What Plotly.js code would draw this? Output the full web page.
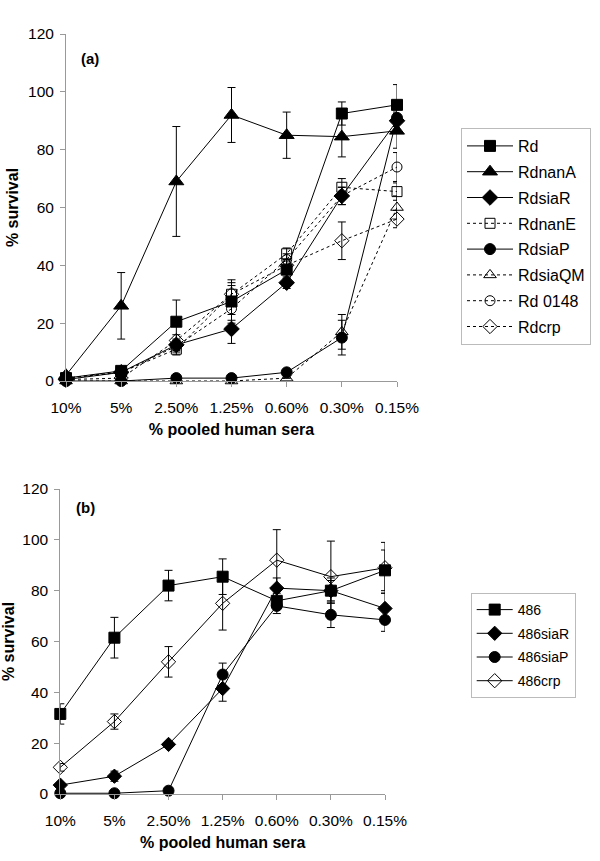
<!DOCTYPE html>
<html>
<head>
<meta charset="utf-8">
<script src="https://cdn.plot.ly/plotly-3.0.1.min.js"></script>
<style>html,body{margin:0;padding:0;background:#fff}</style>
</head>
<body>
<div id="chart" style="width:600px;height:861px"></div>
<script>
// Categories (x axis)
const categories = ['10%', '5%', '2.50%', '1.25%', '0.60%', '0.30%', '0.15%'];

// Panel (a) series
const rd       = [1, 3.5, 20.5, 27.5, 38.5, 92.5, 95.5];
const rdErr    = [0, 1, 7.5, 7.5, 3, 4, 7];
const rdnanA   = [2, 26, 69, 92, 85, 84.5, 86.5];
const rdnanAErr= [1, 11.5, 19, 9.5, 8, 7, 6];
const rdsiaR   = [0.5, 3, 12.5, 18, 34, 64, 90];
const rdsiaRErr= [0, 0.5, 2, 5, 2, 3, 3];
const rdnanE   = [1, 3, 11, 30, 44, 67, 65.5];
const rdnanEErr= [0, 0.5, 2, 3, 2, 3, 3];
const rdsiaP   = [0, 0, 1, 1, 3, 15, 91];
const rdsiaPErr= [0, 0, 0, 0, 0, 6, 3];
const rdsiaQM  = [0, 0, 0, 0, 1, 17, 60];
const rdsiaQMErr=[0, 0, 0, 0, 0, 6, 4];
const rd0148   = [1, 3, 12, 25, 42, 64, 74];
const rd0148Err= [0, 0, 2, 4, 2, 3, 5];
const rdcrp    = [0.5, 1, 14, 30, 40, 48.5, 56];
const rdcrpErr = [0, 0, 2, 4, 2, 6.5, 3];

// Panel (b) series
const s486       = [31.5, 61.5, 82, 85.5, 76, 80, 88];
const s486Err    = [4, 8, 6, 7, 3, 5, 8];
const s486siaR   = [3.5, 7, 19.5, 41.5, 81, 80, 73];
const s486siaRErr= [0.5, 2, 1, 5, 4, 4, 6];
const s486siaP   = [0.3, 0.3, 1.3, 47, 74, 70.5, 68.5];
const s486siaPErr= [0, 0, 0, 4.5, 3, 5, 4.5];
const s486crp    = [10.5, 28.5, 52, 75, 92, 85.5, 89];
const s486crpErr = [1.5, 3, 6, 10.5, 12, 14, 10];

const W = 600, H = 861;
const FONT = 'Liberation Sans, Arial, Helvetica, sans-serif';

function tr(name, y, err, symbol, size, dash, xa, ya, legend, group) {
  return {
    type: 'scatter', mode: 'lines+markers', name: name,
    x: categories, y: y, xaxis: xa, yaxis: ya, legend: legend, legendgroup: group,
    cliponaxis: false,
    line: {color: '#000', width: 1, dash: dash},
    marker: {symbol: symbol, size: size, color: '#000', line: {color: '#000', width: 1}},
    error_y: {type: 'data', array: err, visible: true, color: '#000', thickness: 1, width: 4}
  };
}

const data = [
  tr('Rd', rd, rdErr, 'square', 11, 'solid', 'x', 'y', 'legend', 'a1'),
  tr('RdnanA', rdnanA, rdnanAErr, 'triangle-up', 13, 'solid', 'x', 'y', 'legend', 'a2'),
  tr('RdsiaR', rdsiaR, rdsiaRErr, 'diamond', 12, 'solid', 'x', 'y', 'legend', 'a3'),
  tr('RdnanE', rdnanE, rdnanEErr, 'square-open', 10, 'dot', 'x', 'y', 'legend', 'a4'),
  tr('RdsiaP', rdsiaP, rdsiaPErr, 'circle', 11, 'solid', 'x', 'y', 'legend', 'a5'),
  tr('RdsiaQM', rdsiaQM, rdsiaQMErr, 'triangle-up-open', 11, 'dot', 'x', 'y', 'legend', 'a6'),
  tr('Rd 0148', rd0148, rd0148Err, 'circle-open', 10, 'dot', 'x', 'y', 'legend', 'a7'),
  tr('Rdcrp', rdcrp, rdcrpErr, 'diamond-open', 11, 'dot', 'x', 'y', 'legend', 'a8'),
  tr('486', s486, s486Err, 'square', 11, 'solid', 'x2', 'y2', 'legend2', 'b1'),
  tr('486siaR', s486siaR, s486siaRErr, 'diamond', 11, 'solid', 'x2', 'y2', 'legend2', 'b2'),
  tr('486siaP', s486siaP, s486siaPErr, 'circle', 11, 'solid', 'x2', 'y2', 'legend2', 'b3'),
  tr('486crp', s486crp, s486crpErr, 'diamond-open', 11, 'solid', 'x2', 'y2', 'legend2', 'b4')
];

function xax(domain, anchor) {
  return {
    domain: domain, anchor: anchor, type: 'category',
    categoryorder: 'array', categoryarray: categories, range: [0, 6],
    showline: true, linecolor: '#999', linewidth: 1,
    ticks: 'outside', ticklen: 5, tickcolor: '#999', ticklabelstandoff: 7,
    showgrid: false, zeroline: false, fixedrange: true,
    tickfont: {family: FONT, size: 15.5, color: '#000'},
    title: {text: '<b>% pooled human sera</b>', font: {family: FONT, size: 16, color: '#000'}, standoff: 9}
  };
}
function yax(domain, anchor) {
  return {
    domain: domain, anchor: anchor, range: [0, 120], dtick: 20, tick0: 0,
    showline: true, linecolor: '#999', linewidth: 1,
    ticks: 'outside', ticklen: 5, tickcolor: '#999', ticklabelstandoff: 3,
    showgrid: false, zeroline: false, fixedrange: true,
    tickfont: {family: FONT, size: 15.5, color: '#000'},
    title: {text: '<b>% survival</b>', font: {family: FONT, size: 16, color: '#000'}, standoff: 5}
  };
}

const layout = {
  width: W, height: H,
  margin: {l: 0, r: 0, t: 0, b: 0},
  paper_bgcolor: '#fff', plot_bgcolor: '#fff',
  font: {family: FONT, color: '#000'},
  showlegend: true,
  xaxis: xax([66 / W, 397 / W], 'y'),
  yaxis: yax([1 - 381 / H, 1 - 34 / H], 'x'),
  xaxis2: xax([60.3 / W, 385 / W], 'y2'),
  yaxis2: yax([1 - 794 / H, 1 - 489 / H], 'x2'),
  legend: {
    x: 461 / W, y: 1 - 128 / H, xanchor: 'left', yanchor: 'top',
    bordercolor: '#bbb', borderwidth: 1, bgcolor: '#fff',
    font: {family: FONT, size: 16, color: '#000'},
    itemwidth: 46, traceorder: 'grouped', tracegroupgap: 2
  },
  legend2: {
    x: 470.7 / W, y: 1 - 593 / H, xanchor: 'left', yanchor: 'top',
    bordercolor: '#bbb', borderwidth: 1, bgcolor: '#fff',
    font: {family: FONT, size: 14, color: '#000'},
    itemwidth: 36, traceorder: 'grouped', tracegroupgap: 2.5
  },
  annotations: [
    {text: '<b>(a)</b>', xref: 'paper', yref: 'paper', x: 90 / W, y: 1 - 58 / H,
     xanchor: 'center', yanchor: 'middle', showarrow: false, font: {family: FONT, size: 15, color: '#000'}},
    {text: '<b>(b)</b>', xref: 'paper', yref: 'paper', x: 85 / W, y: 1 - 507.7 / H,
     xanchor: 'center', yanchor: 'middle', showarrow: false, font: {family: FONT, size: 15, color: '#000'}}
  ]
};

Plotly.newPlot('chart', data, layout, {displayModeBar: false, staticPlot: true});
</script>
</body>
</html>
